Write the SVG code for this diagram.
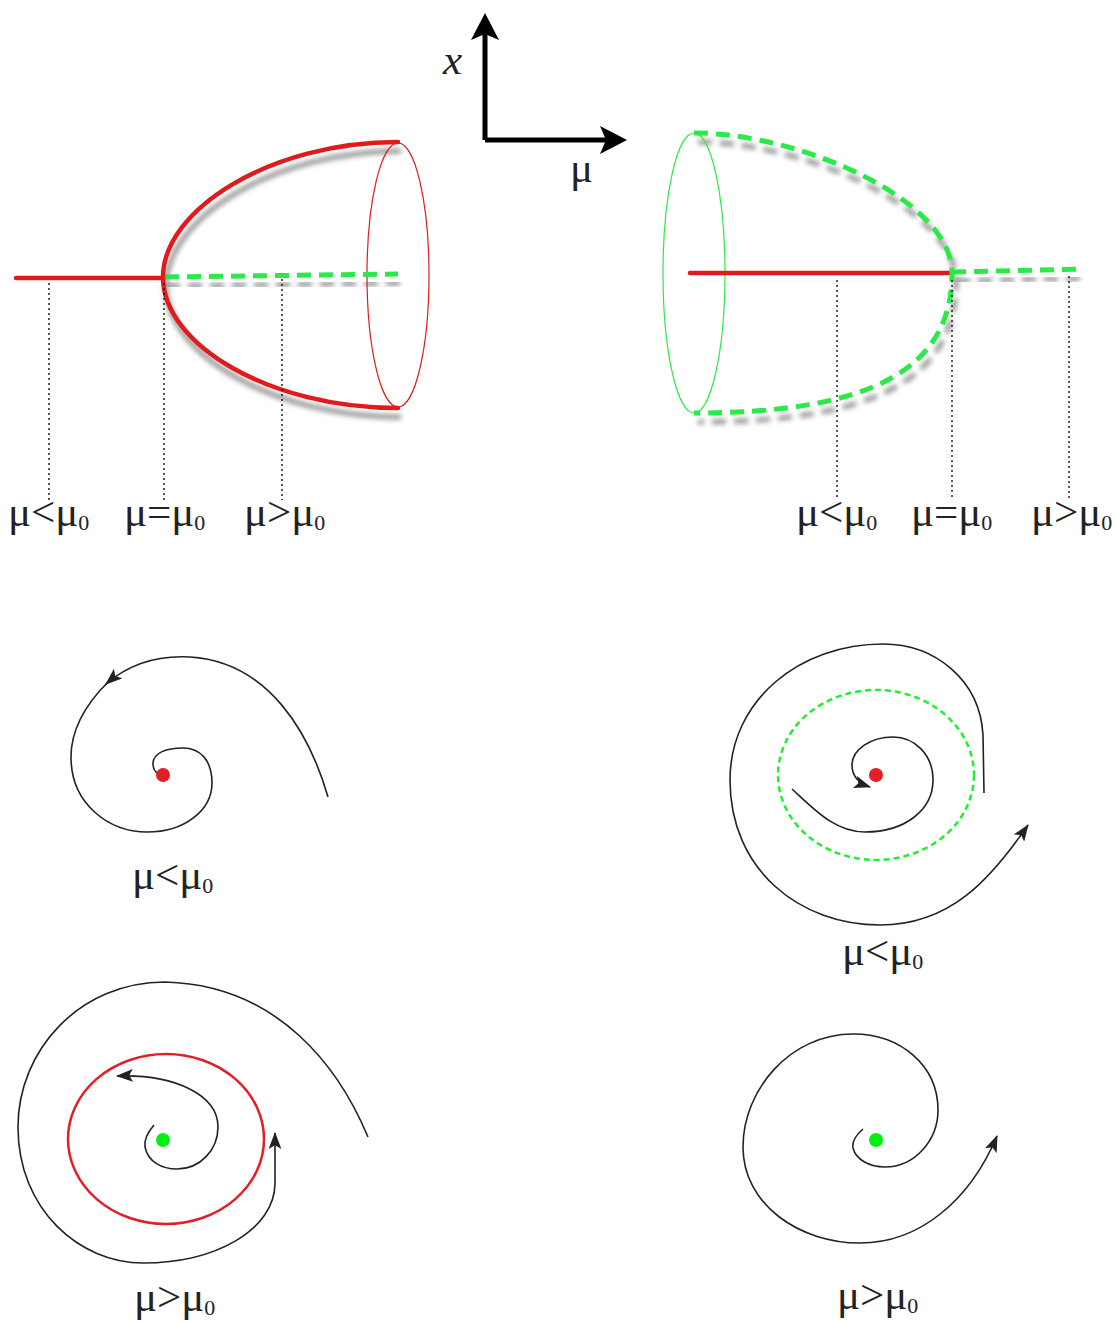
<svg xmlns="http://www.w3.org/2000/svg" width="1116" height="1323" viewBox="0 0 1116 1323">
<style>
.lbl{font-family:"Liberation Serif","Times New Roman",serif;font-size:43px;fill:#222}
.sub{font-size:22px}
.red{fill:none;stroke:#e01b1b;stroke-width:4.5;stroke-linecap:round}
.grn{fill:none;stroke:#2aea4a;stroke-width:5;stroke-dasharray:14 8}
.shd{fill:none;stroke:#7a7a7a;stroke-width:5;opacity:.8;filter:url(#blur)}
.dot{fill:none;stroke:#111;stroke-width:1.4;stroke-dasharray:2 3}
.traj{fill:none;stroke:#222;stroke-width:1.6}
.arr{marker-end:url(#ah)}
</style>
<defs>
<filter id="blur" x="-20%" y="-20%" width="140%" height="140%"><feGaussianBlur stdDeviation="2.5"/></filter>
<marker id="ah" viewBox="0 0 16 12" markerWidth="17" markerHeight="13" refX="15" refY="6" orient="auto" markerUnits="userSpaceOnUse"><path d="M0,0 L16,6 L0,12 L3.5,6 z" fill="#222"/></marker>
</defs>
<rect width="1116" height="1323" fill="#fff"/>

<g id="axes">
<path d="M485,140 L485,30 M485,140 L610,140" fill="none" stroke="#000" stroke-width="5"/>
<path d="M485,13 L499,40 L485,34 L471,40 z" fill="#000"/>
<path d="M627,140 L600,154 L606,140 L600,126 z" fill="#000"/>
<text x="443" y="74" class="lbl" font-style="italic">x</text>
<text x="570" y="182" class="lbl">μ</text>
</g>

<g id="bifurcation-left">
<g transform="translate(3,9)">
<path class="shd" d="M20,278 L163,278"/>
<path class="shd" d="M398,142 C270,142 163,210 163,277 C163,345 270,408 398,408"/>
<path class="shd" d="M163,277 L398,274" stroke-dasharray="14 8"/>
</g>
<ellipse cx="398" cy="275" rx="31" ry="132" fill="none" stroke="#e01b1b" stroke-width="1.2"/>
<path class="red" d="M16,278 L163,278"/>
<path class="grn" d="M165,277 L398,274"/>
<path class="red" d="M398,142 C270,142 163,210 163,277 C163,345 270,408 398,408"/>
<path class="dot" d="M49,283 V500 M164,283 V500 M282,279 V500"/>
<text class="lbl" x="8" y="526">μ&lt;μ<tspan class="sub" dy="4">0</tspan></text>
<text class="lbl" x="124" y="526">μ=μ<tspan class="sub" dy="4">0</tspan></text>
<text class="lbl" x="244" y="526">μ&gt;μ<tspan class="sub" dy="4">0</tspan></text>
</g>

<g id="bifurcation-right">
<g transform="translate(4,9)">
<path class="shd" d="M690,273 L952,273"/>
<path class="shd" d="M694,133 C800,133 952,200 952,273 C952,370 870,413 694,413" stroke-dasharray="14 8"/>
<path class="shd" d="M952,272 L1083,269" stroke-dasharray="14 8"/>
</g>
<ellipse cx="694" cy="273" rx="31" ry="140" fill="none" stroke="#2aea4a" stroke-width="1.2"/>
<path class="red" d="M690,273 L952,273"/>
<path class="grn" d="M694,133 C800,133 952,200 952,273 C952,370 870,413 694,413"/>
<path class="grn" d="M952,272 L1083,269"/>
<path class="dot" d="M837,280 V500 M952,280 V500 M1069,276 V500"/>
<text class="lbl" x="796" y="526">μ&lt;μ<tspan class="sub" dy="4">0</tspan></text>
<text class="lbl" x="911" y="526">μ=μ<tspan class="sub" dy="4">0</tspan></text>
<text class="lbl" x="1031" y="526">μ&gt;μ<tspan class="sub" dy="4">0</tspan></text>
</g>

<g id="phase-1">
<path class="traj arr" d="M328,797 C310,735 270,662 190,657 C155,655 128,665 106,684"/>
<path class="traj" d="M108,682 C85,705 71,730 71,757 C71,805 110,832 147,832 C185,832 212,810 212,783 C212,760 200,748 183,748 C168,748 152,752 153,765 C154,772 158,775 163,773"/>
<circle cx="163" cy="775" r="7" fill="#e21e26"/>
<text class="lbl" x="132" y="889">μ&lt;μ<tspan class="sub" dy="4">0</tspan></text>
</g>

<g id="phase-2">
<ellipse cx="876" cy="775" rx="98" ry="85" fill="none" stroke="#22ee33" stroke-width="2.5" stroke-dasharray="6 4"/>
<path class="traj arr" d="M984,793 L983,735 C980,680 935,644 883,644 C800,644 730,700 730,780 C730,870 800,925 880,925 C950,925 990,880 1028,825"/>
<path class="traj arr" d="M792,789 C815,810 835,832 865,832 C905,832 933,810 933,780 C933,755 915,737 893,737 C870,737 852,750 852,765 C852,775 858,783 870,787"/>
<circle cx="876" cy="775" r="7" fill="#e21e26"/>
<text class="lbl" x="842" y="965">μ&lt;μ<tspan class="sub" dy="4">0</tspan></text>
</g>

<g id="phase-3">
<ellipse cx="166" cy="1139" rx="98" ry="85" fill="none" stroke="#e21e26" stroke-width="2.5"/>
<path class="traj arr" d="M368,1137 C340,1070 280,985 165,982 C80,982 18,1050 18,1127 C18,1210 80,1263 143,1263 C215,1263 275,1230 275,1183 L275,1133"/>
<path class="traj arr" d="M154,1125 C148,1132 144,1140 145,1147 C148,1162 162,1169 177,1169 C200,1169 218,1150 218,1127 C218,1095 175,1074 117,1076"/>
<circle cx="163" cy="1140" r="7" fill="#00ee11"/>
<text class="lbl" x="134" y="1311">μ&gt;μ<tspan class="sub" dy="4">0</tspan></text>
</g>

<g id="phase-4">
<path class="traj arr" d="M863,1129 C856,1135 852,1142 853,1148 C856,1160 870,1167 885,1167 C915,1167 938,1140 938,1110 C938,1065 900,1034 853,1034 C790,1034 743,1090 743,1147 C743,1205 800,1243 860,1243 C920,1243 970,1200 997,1136"/>
<circle cx="876" cy="1140" r="7" fill="#00ee11"/>
<text class="lbl" x="837" y="1309">μ&gt;μ<tspan class="sub" dy="4">0</tspan></text>
</g>
</svg>
